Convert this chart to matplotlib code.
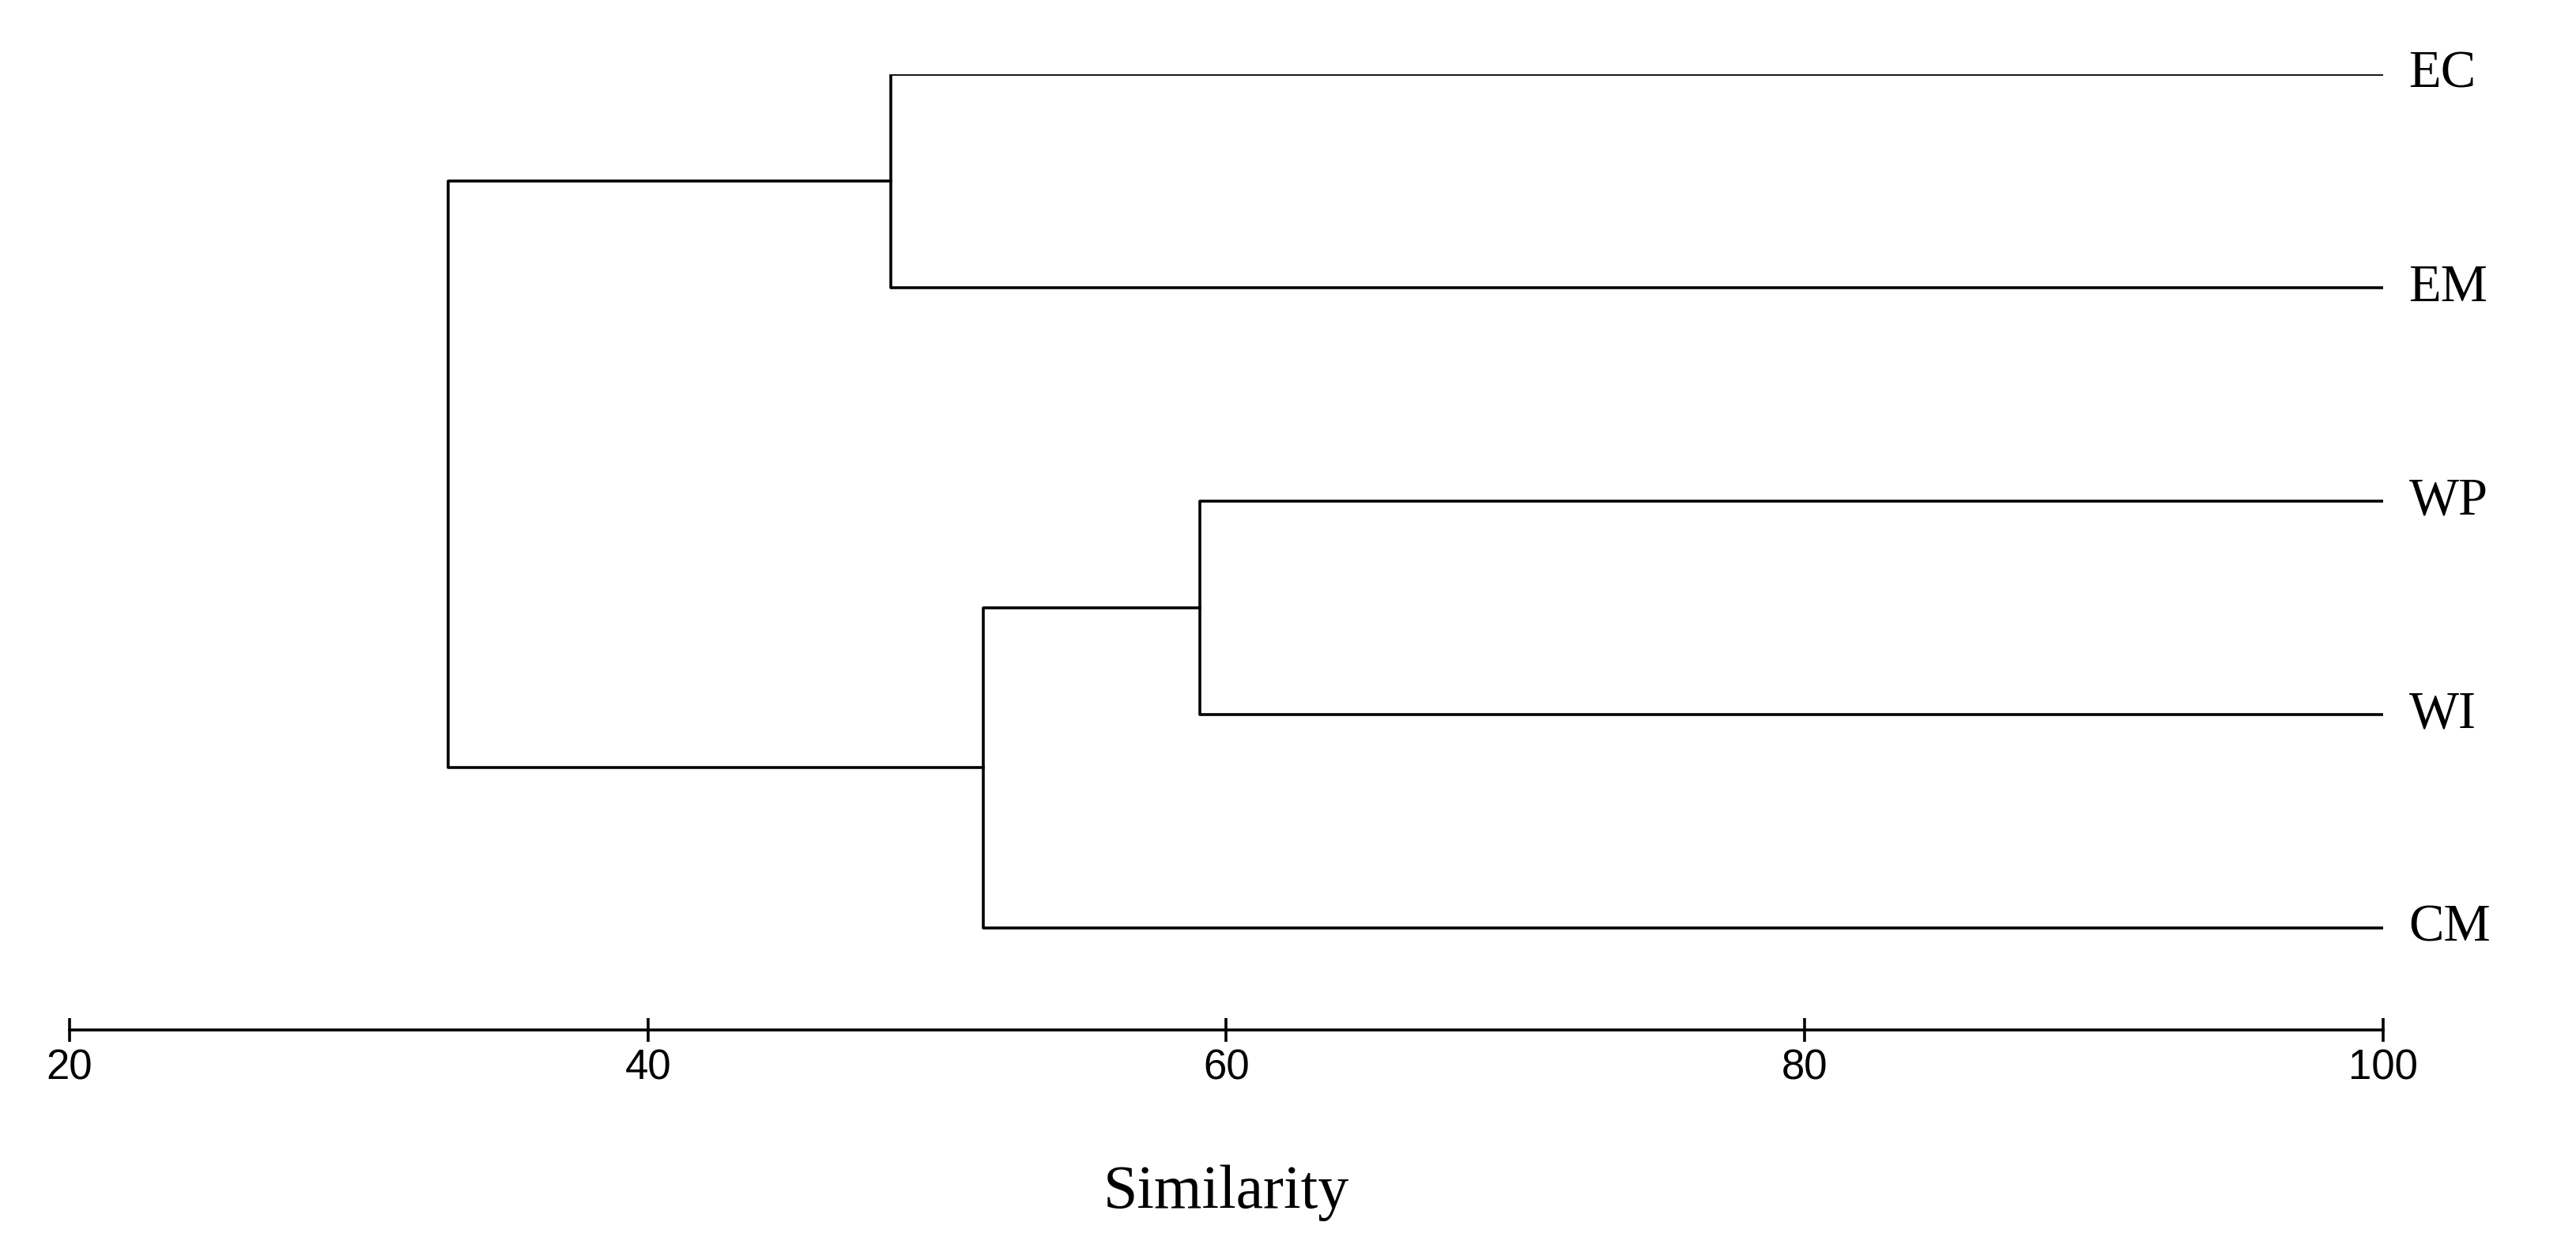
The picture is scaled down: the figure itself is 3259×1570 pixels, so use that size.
import matplotlib
matplotlib.use('Agg')
import matplotlib.pyplot as plt

# leaf order top to bottom
leaves = ['EC', 'EM', 'WP', 'WI', 'CM']
# merges: (left cluster, right cluster, similarity); clusters are leaf names or merge indices
merges = [('EC', 'EM', 48.4),
          ('WP', 'WI', 59.1),
          (1, 'CM', 51.6),
          (0, 2, 33.1)]
xticks = [20, 40, 60, 80, 100]

fig = plt.figure(figsize=(32.59, 15.70), dpi=100)
ax = fig.add_axes([0.027, 0.17, 0.898, 0.77])
lw = 2.6

ypos = {name: len(leaves) - 1 - i for i, name in enumerate(leaves)}
xpos = {name: 100.0 for name in leaves}
for k, (a, b, s) in enumerate(merges):
    ya, yb = ypos[a], ypos[b]
    ax.plot([xpos[a], s, s, xpos[b]], [ya, ya, yb, yb], color='black', lw=lw)
    ypos[k] = (ya + yb) / 2
    xpos[k] = s

for name in leaves:
    ax.text(100.9, ypos[name], name, va='center', ha='left',
            family='Liberation Serif', fontsize=48)

ax.set_xlim(20, 100)
ax.set_ylim(-0.48, 4.0)
for sp in ['top', 'right', 'left']:
    ax.spines[sp].set_visible(False)
ax.spines['bottom'].set_linewidth(lw)
ax.set_yticks([])
ax.set_xticks(xticks)
ax.tick_params(axis='x', direction='inout', length=22, width=lw, pad=6,
               labelsize=38)
for t in ax.get_xticklabels():
    t.set_family('Liberation Sans')
ax.set_xlabel('Similarity', family='Liberation Serif', fontsize=56, labelpad=70)

fig.savefig('out.png', dpi=100)
